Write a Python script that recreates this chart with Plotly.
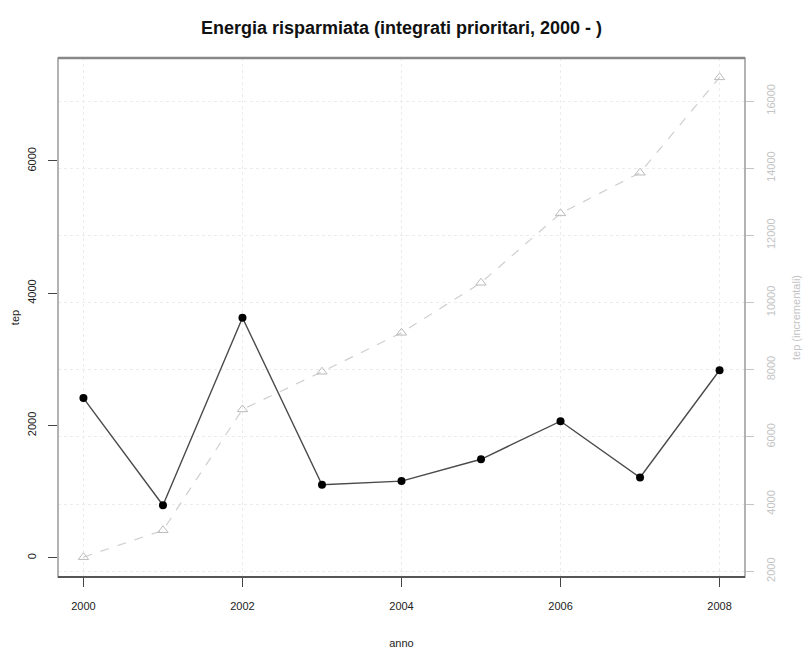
import plotly.graph_objects as go

# Energy saved per year (tep) and the running total (tep incrementali)
anni = [2000, 2001, 2002, 2003, 2004, 2005, 2006, 2007, 2008]
tep = [2415, 795, 3630, 1105, 1160, 1490, 2065, 1215, 2835]
tep_incrementali = [2420, 3220, 6820, 7940, 9100, 10590, 12655, 13865, 16705]

x_ticks = [2000, 2002, 2004, 2006, 2008]
y_ticks = [0, 2000, 4000, 6000]
y2_ticks = [2000, 4000, 6000, 8000, 10000, 12000, 14000, 16000]

FONT = "Liberation Sans"
LIGHT = "#c4c4c4"
GRID = "#ececec"

fig = go.Figure()

fig.add_trace(go.Scatter(
    x=anni, y=tep, mode="lines+markers", yaxis="y",
    line=dict(color="#4a4a4a", width=1.4),
    marker=dict(symbol="circle", size=8, color="#000000"),
    showlegend=False,
))

fig.add_trace(go.Scatter(
    x=anni, y=tep_incrementali, mode="lines+markers", yaxis="y2",
    line=dict(color="#cfcfcf", width=1.2, dash="dash"),
    marker=dict(symbol="triangle-up-open", size=9, color="#bcbcbc",
                line=dict(width=1, color="#bcbcbc")),
    showlegend=False,
))

fig.update_layout(
    width=803, height=653,
    margin=dict(l=58, r=58, t=58, b=76),
    paper_bgcolor="white", plot_bgcolor="white",
    font=dict(family=FONT, size=11, color="#222"),
    title=dict(
        text="<b>Energia risparmiata (integrati prioritari, 2000 - )</b>",
        x=0.5, xanchor="center", y=1 - 28 / 653, yanchor="middle",
        font=dict(family=FONT, size=18, color="#111"),
    ),
    xaxis=dict(
        range=[1999.68, 2008.32], tickvals=x_ticks, automargin=False,
        ticks="outside", ticklen=9, tickcolor="#444", tickwidth=1.2,
        ticklabelstandoff=10,
        showgrid=True, gridcolor=GRID, griddash="dot", gridwidth=1,
        zeroline=False, showline=False,
        title=dict(text="anno", standoff=28, font=dict(size=11)),
    ),
    yaxis=dict(
        range=[-290, 7556], tickvals=y_ticks, tickangle=-90, automargin=False,
        ticks="outside", ticklen=9, tickcolor="#444", tickwidth=1.2,
        ticklabelstandoff=8,
        showgrid=False, zeroline=False, showline=False,
        title=dict(text="tep", standoff=3, font=dict(size=11)),
    ),
    yaxis2=dict(
        overlaying="y", side="right", automargin=False,
        range=[1830, 17281], tickvals=y2_ticks, tickformat="d",
        tickangle=-90,
        ticks="outside", ticklen=8, tickcolor=LIGHT, tickwidth=1.2,
        ticklabelstandoff=8, tickfont=dict(color=LIGHT),
        showgrid=True, gridcolor=GRID, griddash="dot", gridwidth=1,
        zeroline=False, showline=False,
        title=dict(text="tep (incrementali)", standoff=16,
                   font=dict(size=11, color=LIGHT)),
    ),
    shapes=[
        dict(type="rect", xref="paper", yref="paper", x0=0, x1=1, y0=0, y1=1,
             line=dict(color="#a0a0a0", width=1.6), layer="above"),
        dict(type="line", xref="paper", yref="paper", x0=0, x1=1, y0=1, y1=1,
             line=dict(color="#888888", width=2.6), layer="above"),
        dict(type="line", xref="paper", yref="paper", x0=0, x1=1, y0=0, y1=0,
             line=dict(color="#555555", width=2), layer="above"),
    ],
)

fig.write_html("out.html")
